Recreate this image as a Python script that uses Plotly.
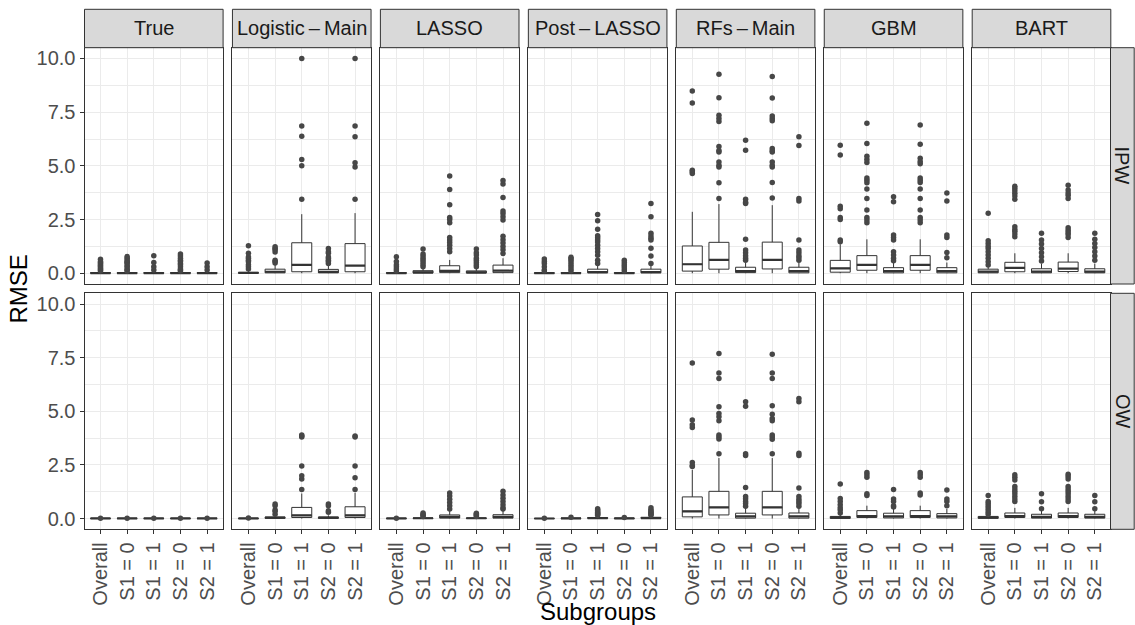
import plotly.graph_objects as go

# ---------------- data ----------------
METHODS = ["True", "Logistic\u2009\u2013\u2009Main", "LASSO", "Post\u2009\u2013\u2009LASSO",
           "RFs\u2009\u2013\u2009Main", "GBM", "BART"]
WEIGHTS = ["IPW", "OW"]
SUBGROUPS = ["Overall", "S1 = 0", "S1 = 1", "S2 = 0", "S2 = 1"]
Y_TICKS = [0, 2.5, 5, 7.5, 10]

# IPW box statistics (rows = methods, cols = subgroups)
IPW_Q1 = [
    [0, 0, 0, 0, 0],
    [0.0, 0.02, 0.07, 0.02, 0.07],
    [0, 0.01, 0.03, 0.01, 0.03],
    [0, 0, 0.02, 0, 0.02],
    [0.1, 0.19, 0.03, 0.2, 0.02],
    [0.05, 0.14, 0.02, 0.14, 0.02],
    [0.02, 0.07, 0.02, 0.08, 0.02],
]
IPW_MED = [
    [0.01, 0.01, 0.01, 0.01, 0.01],
    [0.02, 0.07, 0.39, 0.06, 0.36],
    [0.01, 0.04, 0.11, 0.04, 0.12],
    [0.01, 0.01, 0.05, 0.01, 0.05],
    [0.42, 0.62, 0.1, 0.62, 0.1],
    [0.23, 0.39, 0.1, 0.39, 0.1],
    [0.08, 0.25, 0.08, 0.22, 0.08],
]
IPW_Q3 = [
    [0.03, 0.03, 0.03, 0.03, 0.03],
    [0.04, 0.19, 1.42, 0.18, 1.38],
    [0.03, 0.12, 0.35, 0.11, 0.38],
    [0.02, 0.03, 0.19, 0.03, 0.19],
    [1.27, 1.44, 0.28, 1.45, 0.28],
    [0.6, 0.82, 0.26, 0.82, 0.26],
    [0.19, 0.51, 0.21, 0.52, 0.21],
]
IPW_UPPER = [
    [0.07, 0.07, 0.07, 0.07, 0.07],
    [0.1, 0.42, 2.75, 0.4, 2.8],
    [0.08, 0.27, 0.62, 0.25, 0.7],
    [0.06, 0.08, 0.4, 0.08, 0.42],
    [2.86, 3.22, 0.5, 3.17, 0.5],
    [1.35, 1.58, 0.5, 1.58, 0.5],
    [0.35, 0.93, 0.45, 0.93, 0.45],
]

# IPW outliers per method (one list per subgroup)
IPW_OUT_TRUE = [[0.1, 0.15, 0.2, 0.25, 0.3, 0.35, 0.4, 0.45, 0.5, 0.55, 0.65],
                [0.1, 0.15, 0.2, 0.3, 0.35, 0.45, 0.5, 0.55, 0.62, 0.7, 0.78],
                [0.15, 0.3, 0.5, 0.82],
                [0.1, 0.15, 0.2, 0.3, 0.4, 0.45, 0.55, 0.6, 0.7, 0.8, 0.9],
                [0.15, 0.3, 0.48]]
IPW_OUT_LOGISTIC = [[0.2, 0.3, 0.4, 0.54, 0.6, 0.7, 0.77, 0.93, 1.28],
                    [0.48, 0.55, 0.6, 0.99, 1.1, 1.15, 1.23],
                    [3.45, 5.0, 5.3, 6.38, 6.85, 10.0],
                    [0.46, 0.55, 0.6, 0.7, 0.77, 0.93, 1.0, 1.15],
                    [3.45, 4.95, 5.15, 6.35, 6.85, 10.0]]
IPW_OUT_LASSO = [[0.1, 0.2, 0.3, 0.4, 0.55, 0.77],
                 [0.3, 0.4, 0.5, 0.6, 0.7, 0.8, 0.9, 1.13],
                 [1.0, 1.15, 1.3, 1.43, 1.55, 1.67, 2.35, 2.5, 2.6, 3.19, 3.9, 4.53],
                 [0.3, 0.4, 0.5, 0.6, 0.7, 0.85, 0.95, 1.13],
                 [0.92, 1.1, 1.25, 1.41, 1.56, 1.72, 2.48, 2.63, 2.78, 2.9, 3.53, 4.15, 4.32]]
IPW_OUT_POSTLASSO = [[0.1, 0.15, 0.3, 0.45, 0.55, 0.66],
                     [0.1, 0.2, 0.3, 0.4, 0.5, 0.6, 0.68, 0.74],
                     [0.45, 0.6, 0.84, 1.0, 1.15, 1.3, 1.45, 1.55, 1.65, 1.75, 2.05, 2.44, 2.74],
                     [0.1, 0.2, 0.3, 0.4, 0.5, 0.6],
                     [0.46, 0.8, 1.16, 1.55, 1.63, 1.74, 1.86, 2.63, 3.25]]
IPW_OUT_RF = [[4.64, 4.72, 4.8, 7.93, 8.48],
              [3.48, 4.21, 4.95, 5.03, 5.18, 5.64, 5.72, 5.9, 7.07, 7.2, 7.35, 8.17, 9.26],
              [0.6, 0.7, 0.82, 0.95, 1.08, 1.58, 3.25, 3.3, 3.45, 5.73, 6.19],
              [3.5, 4.23, 4.95, 5.03, 5.18, 5.65, 5.7, 5.81, 7.1, 7.2, 7.32, 8.16, 9.16],
              [0.6, 0.72, 0.82, 0.95, 1.08, 1.55, 3.36, 3.48, 5.95, 6.35]]
IPW_OUT_GBM = [[1.47, 1.55, 2.5, 2.6, 3.0, 3.12, 5.5, 5.96],
               [2.35, 2.48, 2.6, 2.94, 3.48, 3.92, 4.21, 4.33, 4.44, 5.16, 5.3, 5.45, 6.04, 6.98],
               [0.58, 0.7, 0.85, 1.0, 1.55, 1.67, 1.78, 3.33, 3.56],
               [2.35, 2.48, 2.6, 2.94, 3.48, 3.92, 4.22, 4.33, 4.44, 5.1, 5.2, 5.35, 6.0, 6.9],
               [0.72, 0.97, 1.67, 1.78, 3.36, 3.74]]
IPW_OUT_BART = [[0.39, 0.54, 0.7, 0.85, 1.0, 1.15, 1.26, 1.39, 1.51, 2.79],
                [1.7, 1.83, 1.95, 2.04, 2.17, 3.44, 3.6, 3.72, 3.84, 3.95, 4.05],
                [0.57, 0.77, 0.95, 1.15, 1.36, 1.55, 1.86],
                [1.67, 1.8, 1.9, 2.0, 2.12, 3.48, 3.63, 3.74, 3.87, 4.1],
                [0.6, 0.8, 1.0, 1.2, 1.39, 1.58, 1.86]]

# OW box statistics
OW_Q1 = [
    [0, 0, 0, 0, 0],
    [0, 0.01, 0.05, 0.01, 0.05],
    [0, 0.005, 0.02, 0.005, 0.02],
    [0, 0, 0.01, 0, 0.01],
    [0.08, 0.17, 0.02, 0.17, 0.02],
    [0.01, 0.05, 0.03, 0.05, 0.03],
    [0.01, 0.05, 0.02, 0.05, 0.02],
]
OW_MED = [
    [0.005, 0.005, 0.005, 0.005, 0.005],
    [0.005, 0.04, 0.15, 0.04, 0.15],
    [0.005, 0.015, 0.08, 0.015, 0.08],
    [0.003, 0.01, 0.02, 0.01, 0.02],
    [0.34, 0.52, 0.1, 0.52, 0.1],
    [0.04, 0.12, 0.1, 0.12, 0.1],
    [0.05, 0.12, 0.08, 0.12, 0.08],
]
OW_Q3 = [
    [0.01, 0.01, 0.01, 0.01, 0.01],
    [0.01, 0.07, 0.52, 0.07, 0.55],
    [0.01, 0.03, 0.17, 0.03, 0.18],
    [0.008, 0.02, 0.05, 0.02, 0.06],
    [1.01, 1.27, 0.25, 1.27, 0.26],
    [0.1, 0.37, 0.25, 0.37, 0.23],
    [0.1, 0.26, 0.2, 0.26, 0.2],
]
OW_UPPER = [
    [0.02, 0.02, 0.02, 0.02, 0.02],
    [0.02, 0.15, 1.17, 0.15, 1.2],
    [0.02, 0.07, 0.38, 0.07, 0.4],
    [0.015, 0.04, 0.11, 0.04, 0.12],
    [2.27, 2.82, 0.5, 2.82, 0.5],
    [0.2, 0.6, 0.45, 0.6, 0.45],
    [0.18, 0.5, 0.38, 0.5, 0.38],
]

OW_OUT_TRUE = [[0.02], [0.02], [0.02], [0.02], [0.02]]
OW_OUT_LOGISTIC = [[0.03],
                   [0.2, 0.34, 0.4, 0.6, 0.68],
                   [1.35, 1.85, 2.0, 2.45, 3.8, 3.85, 3.9],
                   [0.3, 0.37, 0.6, 0.68],
                   [1.35, 1.9, 2.45, 3.8, 3.85]]
OW_OUT_LASSO = [[0.02],
                [0.1, 0.15, 0.2, 0.26],
                [0.45, 0.6, 0.75, 0.9, 1.05, 1.19],
                [0.1, 0.15, 0.2, 0.25],
                [0.45, 0.5, 0.65, 0.8, 0.95, 1.1, 1.27]]
OW_OUT_POSTLASSO = [[0.02],
                    [0.06],
                    [0.15, 0.2, 0.25, 0.3, 0.35, 0.4, 0.46],
                    [0.05],
                    [0.15, 0.2, 0.25, 0.3, 0.35, 0.4, 0.5]]
OW_OUT_RF = [[2.43, 2.47, 2.61, 4.24, 4.37, 4.6, 7.25],
             [3.02, 3.71, 3.8, 3.9, 4.56, 4.75, 4.9, 5.21, 6.53, 6.79, 7.69],
             [0.57, 0.7, 0.8, 0.92, 1.03, 1.45, 2.94, 3.02, 5.24, 5.44],
             [3.02, 3.7, 3.8, 3.9, 4.56, 4.66, 4.86, 5.26, 6.53, 6.79, 7.66],
             [0.57, 0.7, 0.8, 0.9, 1.03, 1.42, 2.94, 3.05, 5.44, 5.6]]
OW_OUT_GBM = [[0.26, 0.4, 0.5, 0.65, 0.8, 0.93, 1.61],
              [1.08, 1.16, 1.93, 2.04, 2.15],
              [0.54, 0.6, 0.8, 0.91, 1.35],
              [1.1, 1.19, 1.93, 2.04, 2.15],
              [0.6, 0.8, 0.91, 1.33]]
OW_OUT_BART = [[0.2, 0.3, 0.4, 0.5, 0.6, 0.7, 0.8, 1.08],
               [0.8, 0.91, 1.03, 1.16, 1.27, 1.38, 1.5, 1.8, 1.93, 2.04],
               [0.46, 0.78, 1.16],
               [0.8, 0.91, 1.03, 1.16, 1.27, 1.38, 1.5, 1.84, 1.96, 2.07],
               [0.46, 0.78, 1.08]]

IPW_OUT = [IPW_OUT_TRUE, IPW_OUT_LOGISTIC, IPW_OUT_LASSO, IPW_OUT_POSTLASSO,
           IPW_OUT_RF, IPW_OUT_GBM, IPW_OUT_BART]
OW_OUT = [OW_OUT_TRUE, OW_OUT_LOGISTIC, OW_OUT_LASSO, OW_OUT_POSTLASSO,
          OW_OUT_RF, OW_OUT_GBM, OW_OUT_BART]

STATS = {
    "IPW": (IPW_Q1, IPW_MED, IPW_Q3, IPW_UPPER, IPW_OUT),
    "OW": (OW_Q1, OW_MED, OW_Q3, OW_UPPER, OW_OUT),
}

# ---------------- layout geometry (pixels) ----------------
W, H = 1135, 625
PX0, PSTEP, PW = 84.5, 147.95, 138.6
ROWS_Y = [(47.7, 284.0), (293.3, 529.3)]
STRIP_TOP = 9.3
STRIP_RIGHT = (1110.5, 1134.2)
BOX_W = 0.75

DARK = "#333333"
POINT = "#474747"
GRID = "#EBEBEB"
FONT = "Liberation Sans, Arial, sans-serif"
TICKFONT = dict(size=20, color="#4D4D4D", family=FONT)
STRIPFONT = dict(size=20, color="#1A1A1A", family=FONT)
TITLEFONT = dict(size=24, color="black", family=FONT)


def fx(px):
    return px / W


def fy(py):
    return 1 - py / H


fig = go.Figure()
layout = dict(
    width=W, height=H, margin=dict(l=0, r=0, t=0, b=0, autoexpand=False),
    paper_bgcolor="white", plot_bgcolor="white", showlegend=False,
    font=dict(family=FONT, color="#4D4D4D"),
)
shapes, annotations = [], []
positions = list(range(1, len(SUBGROUPS) + 1))

for r, wname in enumerate(WEIGHTS):
    q1s, meds, q3s, ups, outs = STATS[wname]
    y0, y1 = ROWS_Y[r]
    for c, mname in enumerate(METHODS):
        k = r * len(METHODS) + c + 1
        xa = "x" if k == 1 else f"x{k}"
        ya = "y" if k == 1 else f"y{k}"
        x0 = PX0 + c * PSTEP
        x1 = x0 + PW
        bottom = r == len(WEIGHTS) - 1
        left = c == 0
        layout["xaxis" if k == 1 else f"xaxis{k}"] = dict(
            domain=[fx(x0), fx(x1)], anchor=ya, range=[0.4, 5.6],
            tickvals=positions, ticktext=SUBGROUPS, tickangle=-90,
            showticklabels=bottom, ticks="outside" if bottom else "",
            ticklen=4, tickwidth=1, tickcolor=DARK, tickfont=TICKFONT,
            showgrid=True, gridcolor=GRID, gridwidth=1.1, zeroline=False,
            showline=True, mirror=True, linecolor=DARK, linewidth=1,
            fixedrange=True, automargin=False,
        )
        layout["yaxis" if k == 1 else f"yaxis{k}"] = dict(
            domain=[fy(y1), fy(y0)], anchor=xa, range=[-0.5, 10.5],
            tickvals=Y_TICKS, ticktext=[f"{v:.1f}" for v in Y_TICKS],
            showticklabels=left, ticks="outside" if left else "",
            ticklen=4, tickwidth=1, tickcolor=DARK, tickfont=TICKFONT,
            showgrid=True, gridcolor=GRID, gridwidth=1.1, zeroline=False,
            minor=dict(dtick=1.25, tick0=0, showgrid=True, gridcolor=GRID,
                       gridwidth=0.6, ticks=""),
            showline=True, mirror=True, linecolor=DARK, linewidth=1,
            fixedrange=True, automargin=False,
        )

        q1, med, q3, up = q1s[c], meds[c], q3s[c], ups[c]
        fig.add_trace(go.Box(
            x=positions, q1=q1, median=med, q3=q3,
            lowerfence=[0.0 for _ in q1], upperfence=up,
            width=BOX_W, whiskerwidth=0, boxpoints=False,
            fillcolor="white", line=dict(color=DARK, width=1),
            xaxis=xa, yaxis=ya, hoverinfo="skip",
        ))
        # thicker median bars
        mx, my = [], []
        for p, m in zip(positions, med):
            mx += [p - BOX_W / 2, p + BOX_W / 2, None]
            my += [m, m, None]
        fig.add_trace(go.Scatter(x=mx, y=my, mode="lines",
                                 line=dict(color=DARK, width=2.2),
                                 xaxis=xa, yaxis=ya, hoverinfo="skip"))
        # outliers
        ox, oy = [], []
        for p, pts in zip(positions, outs[c]):
            ox += [p] * len(pts)
            oy += pts
        fig.add_trace(go.Scatter(x=ox, y=oy, mode="markers",
                                 marker=dict(color=POINT, size=5.5),
                                 xaxis=xa, yaxis=ya, hoverinfo="skip",
                                 cliponaxis=False))

        # top strips
        if r == 0:
            shapes.append(dict(type="rect", xref="paper", yref="paper",
                               x0=fx(x0), x1=fx(x1), y0=fy(y0), y1=fy(STRIP_TOP),
                               fillcolor="#D9D9D9", line=dict(color=DARK, width=1),
                               layer="above"))
            annotations.append(dict(xref="paper", yref="paper",
                                    x=fx((x0 + x1) / 2), y=fy((STRIP_TOP + y0) / 2),
                                    text=mname, showarrow=False, font=STRIPFONT,
                                    xanchor="center", yanchor="middle"))
    # right strips
    shapes.append(dict(type="rect", xref="paper", yref="paper",
                       x0=fx(STRIP_RIGHT[0]), x1=fx(STRIP_RIGHT[1]),
                       y0=fy(y1), y1=fy(y0), fillcolor="#D9D9D9",
                       line=dict(color=DARK, width=1), layer="above"))
    annotations.append(dict(xref="paper", yref="paper",
                            x=fx(sum(STRIP_RIGHT) / 2), y=fy((y0 + y1) / 2),
                            text=wname, textangle=90, showarrow=False,
                            font=STRIPFONT, xanchor="center", yanchor="middle"))

annotations.append(dict(xref="paper", yref="paper", x=fx(18.5), y=fy(289),
                        text="RMSE", textangle=-90, showarrow=False,
                        font=TITLEFONT, xanchor="center", yanchor="middle"))
annotations.append(dict(xref="paper", yref="paper", x=fx(597.5), y=fy(611),
                        text="Subgroups", showarrow=False,
                        font=TITLEFONT, xanchor="center", yanchor="middle"))

layout["shapes"] = shapes
layout["annotations"] = annotations
fig.update_layout(**layout)
fig.write_html(
    "out.html",
    config={"displayModeBar": False},
    post_script="document.body.style.margin='0';document.body.style.overflow='hidden';",
)
